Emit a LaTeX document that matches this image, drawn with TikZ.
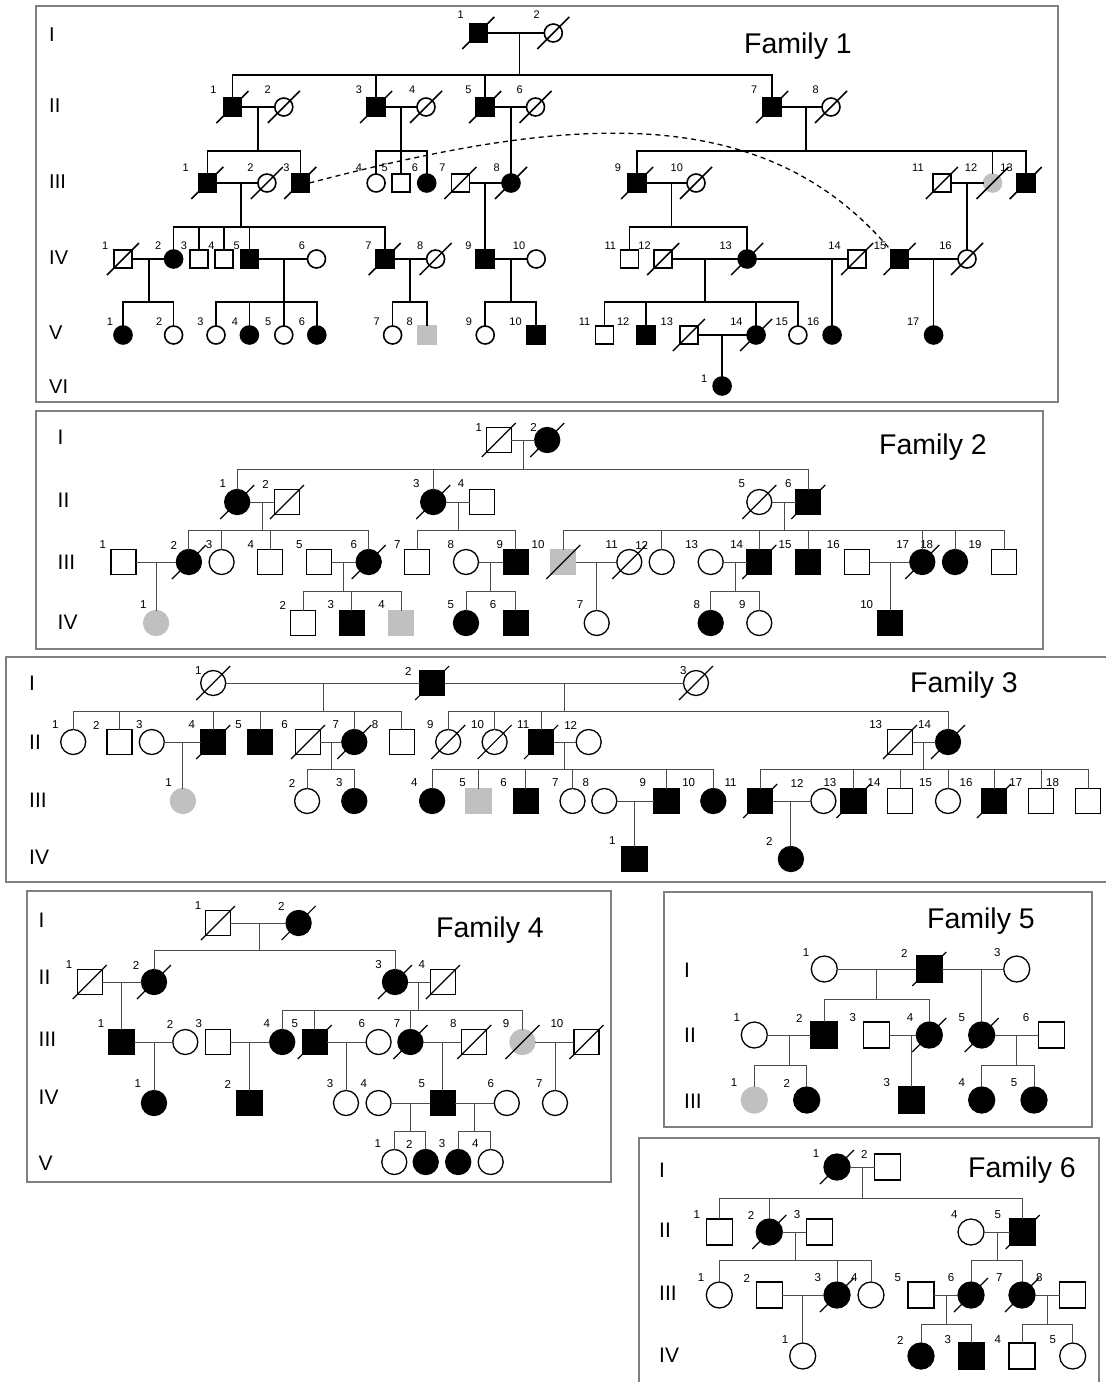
\documentclass[tikz,border=0pt]{standalone}
\usepackage{fontspec}
\setmainfont{Liberation Sans}
\definecolor{pgrey}{RGB}{192,192,192}
\tikzset{
 sym/.style={minimum size=25pt, line width=1.3pt},
 pbase/.style={draw=black, inner sep=0pt, outer sep=0pt, fill=white, sym},
 psq/.style={pbase, rectangle},
 pci/.style={pbase, circle},
 aff/.style={fill=black},
 gry/.style={fill=pgrey, draw=pgrey},
 lk/.style={line width=1pt, black!70},
 slash/.style={line width=1.2pt, black},
 lbl/.style={inner sep=0pt, font=\fontsize{11.5}{12}\selectfont},
 gen/.style={anchor=west, inner sep=0pt, font=\fontsize{21}{22}\selectfont},
 ttl/.style={anchor=base, inner sep=0pt, font=\fontsize{28.5}{30}\selectfont},
 frame/.style={draw=black!50, line width=1.4pt},
 dashline/.style={dash pattern=on 5pt off 4pt, line width=1.3pt},
}
\def\psl{17}
\newcommand\PSq[7]{\node[psq,#4] (#1) at (#2,#3) {}; \node[lbl] (#1l) at (#6,#7) {#5};}
\newcommand\PCi[7]{\node[pci,#4] (#1) at (#2,#3) {}; \node[lbl] (#1l) at (#6,#7) {#5};}
\newcommand\PDead[1]{\draw[slash] ([shift={(-\psl,\psl)}]#1.center) -- ([shift={(\psl,-\psl)}]#1.center);}
\newcommand\PMar[2]{\draw[lk] (#1) -- (#2);}
\newcommand\PKids[4]{\draw[lk] (#1,#2) -- (#1,#3); \foreach \ch in {#4}{\draw[lk] (#1,#3) -| (\ch);}}
\newcommand\PKid[3]{\draw[lk] (#1,#2) -- (#3);}
\begin{document}
\begin{tikzpicture}[x=1pt,y=-1pt]
\useasboundingbox (0,0) rectangle (1106,1382);
\fill[white] (0,0) rectangle (1106,1382);
% frames
\draw[frame] (36,6) rectangle (1058,402);
\draw[frame] (36,411) rectangle (1043,649);
\draw[frame] (1106,657) -- (6,657) -- (6,882) -- (1106,882);
\draw[frame] (27,891) rectangle (611,1182);
\draw[frame] (664,892) rectangle (1092,1127);
\draw[frame] (639,1382) -- (639,1138) -- (1099,1138) -- (1099,1382);

%================ FAMILY 1
\begin{scope}[sym/.style={minimum size=18pt, line width=1.6pt}, lk/.style={line width=1.6pt, black}, slash/.style={line width=1.5pt, black}, lbl/.style={inner sep=0pt, font=\fontsize{11}{12}\selectfont}, gen/.style={anchor=west, inner sep=0pt, font=\fontsize{20}{22}\selectfont}]
\def\psl{16}
\node[ttl] (t1) at (798,53.5) {Family 1};
\node[gen] (g1a) at (49,35) {I};
\node[gen] (g1b) at (49,106) {II};
\node[gen] (g1c) at (49,182) {III};
\node[gen] (g1d) at (49,258) {IV};
\node[gen] (g1e) at (49,333) {V};
\node[gen] (g1f) at (49,387) {VI};
% Gen I
\PSq{a-I-1}{478.3}{33}{aff}{1}{460.7}{15}
\PCi{a-I-2}{553.3}{33}{}{2}{536.7}{15}
\PMar{a-I-1}{a-I-2}
% Gen II
\PSq{a-II-1}{232.5}{107}{aff}{1}{213.5}{90}
\PCi{a-II-2}{283.8}{107}{}{2}{267.6}{90}
\PSq{a-II-3}{376.1}{107}{aff}{3}{358.9}{90}
\PCi{a-II-4}{426}{107}{}{4}{412.2}{90}
\PSq{a-II-5}{485.2}{107}{aff}{5}{468.4}{90}
\PCi{a-II-6}{535.5}{107}{}{6}{519.7}{90}
\PSq{a-II-7}{772.1}{107}{aff}{7}{754.3}{90}
\PCi{a-II-8}{831}{107}{}{8}{815.7}{90}
\PMar{a-II-1}{a-II-2}\PMar{a-II-3}{a-II-4}\PMar{a-II-5}{a-II-6}\PMar{a-II-7}{a-II-8}
% Gen III
\PSq{a-III-1}{207.3}{183}{aff}{1}{185.6}{168}
\PCi{a-III-2}{266.9}{183}{}{2}{250.4}{168}
\PSq{a-III-3}{300.3}{183}{aff}{3}{286.5}{168}
\PCi{a-III-4}{376.1}{183}{}{4}{358.9}{168}
\PSq{a-III-5}{401.2}{183}{}{5}{384.7}{168}
\PCi{a-III-6}{426.7}{183}{aff}{6}{415}{168}
\PSq{a-III-7}{460.4}{183}{}{7}{442.5}{168}
\PCi{a-III-8}{511}{183}{aff}{8}{496.6}{168}
\PSq{a-III-9}{637.1}{183}{aff}{9}{617.9}{168}
\PCi{a-III-10}{696}{183}{}{10}{676.8}{168}
\PSq{a-III-11}{941.8}{183}{}{11}{917.9}{168}
\PCi{a-III-12}{992.5}{183}{gry}{12}{971}{168}
\PSq{a-III-13}{1025.7}{183}{aff}{13}{1006.5}{168}
\PMar{a-III-1}{a-III-2}\PMar{a-III-7}{a-III-8}\PMar{a-III-9}{a-III-10}\PMar{a-III-11}{a-III-12}
% Gen IV
\PSq{a-IV-1}{123}{259}{}{1}{105.1}{246}
\PCi{a-IV-2}{173.6}{259}{aff}{2}{158.1}{246}
\PSq{a-IV-3}{198.7}{259}{}{3}{183.9}{246}
\PSq{a-IV-4}{223.9}{259}{}{4}{211.5}{246}
\PSq{a-IV-5}{249.4}{259}{aff}{5}{236.6}{246}
\PCi{a-IV-6}{316.5}{259}{}{6}{302}{246}
\PSq{a-IV-7}{384.7}{259}{aff}{7}{368.5}{246}
\PCi{a-IV-8}{435.6}{259}{}{8}{420.2}{246}
\PSq{a-IV-9}{485.2}{259}{aff}{9}{468.4}{246}
\PCi{a-IV-10}{536.2}{259}{}{10}{519}{246}
\PSq{a-IV-11}{629.3}{259}{}{11}{610.4}{246}
\PSq{a-IV-12}{663.2}{259}{}{12}{644.6}{246}
\PCi{a-IV-13}{747.1}{259}{aff}{13}{725.7}{246}
\PSq{a-IV-14}{857.1}{259}{}{14}{834.6}{246}
\PSq{a-IV-15}{899.6}{259}{aff}{15}{880}{246}
\PCi{a-IV-16}{967}{259}{}{16}{945.4}{246}
\PMar{a-IV-1}{a-IV-2}\PMar{a-IV-5}{a-IV-6}\PMar{a-IV-7}{a-IV-8}\PMar{a-IV-9}{a-IV-10}
\PMar{a-IV-12}{a-IV-13}\PMar{a-IV-13}{a-IV-14}\PMar{a-IV-15}{a-IV-16}
% Gen V
\PCi{a-V-1}{123}{335}{aff}{1}{109.9}{321.7}
\PCi{a-V-2}{173.6}{335}{}{2}{159.1}{321.7}
\PCi{a-V-3}{216}{335}{}{3}{200.5}{321.7}
\PCi{a-V-4}{249.4}{335}{aff}{4}{234.9}{321.7}
\PCi{a-V-5}{283.8}{335}{}{5}{268.3}{321.7}
\PCi{a-V-6}{316.8}{335}{aff}{6}{302}{321.7}
\PCi{a-V-7}{392.6}{335}{}{7}{376.8}{321.7}
\PSq{a-V-8}{427}{335}{gry}{8}{409.8}{321.7}
\PCi{a-V-9}{485.2}{335}{}{9}{469}{321.7}
\PSq{a-V-10}{536.2}{335}{aff}{10}{515.5}{321.7}
\PSq{a-V-11}{604.3}{335}{}{11}{584.6}{321.7}
\PSq{a-V-12}{646.1}{335}{aff}{12}{623.2}{321.7}
\PSq{a-V-13}{688.9}{335}{}{13}{666.8}{321.7}
\PCi{a-V-14}{756.1}{335}{aff}{14}{736.4}{321.7}
\PCi{a-V-15}{797.9}{335}{}{15}{781.8}{321.7}
\PCi{a-V-16}{832.1}{335}{aff}{16}{813.2}{321.7}
\PCi{a-V-17}{933.6}{335}{aff}{17}{913.2}{321.7}
\PMar{a-V-13}{a-V-14}
% Gen VI
\PCi{a-VI-1}{722.1}{386}{aff}{1}{704.3}{378.3}
% descent
\PKids{519.3}{33}{75}{a-II-1,a-II-3,a-II-5,a-II-7}
\PKids{258}{107}{151}{a-III-1,a-III-3}
\PKids{401.2}{107}{151}{a-III-4,a-III-5,a-III-6}
\PKid{511}{107}{a-III-8}
\PKids{806}{107}{151}{a-III-9,a-III-12,a-III-13}
\PKids{240.7}{183}{227}{a-IV-2,a-IV-3,a-IV-4,a-IV-5,a-IV-7}
\PKid{485.2}{183}{a-IV-9}
\PKids{671.4}{183}{227}{a-IV-11,a-IV-13}
\PKid{967}{183}{a-IV-16}
\PKids{148.8}{259}{302}{a-V-1,a-V-2}
\PKids{283.8}{259}{302}{a-V-3,a-V-4,a-V-5,a-V-6}
\PKids{409.8}{259}{302}{a-V-7,a-V-8}
\PKids{511}{259}{302}{a-V-9,a-V-10}
\PKids{705}{259}{302}{a-V-11,a-V-12,a-V-14,a-V-15}
\PKid{832.1}{259}{a-V-16}
\PKid{933.6}{259}{a-V-17}
\PKid{722.1}{335}{a-VI-1}
% deceased
\foreach \n in {a-I-1,a-I-2,a-II-1,a-II-2,a-II-3,a-II-4,a-II-5,a-II-6,a-II-7,a-II-8,a-III-1,a-III-2,a-III-3,a-III-7,a-III-8,a-III-9,a-III-10,a-III-11,a-III-12,a-III-13,a-IV-1,a-IV-7,a-IV-8,a-IV-12,a-IV-13,a-IV-14,a-IV-15,a-IV-16,a-V-13,a-V-14}{\PDead{\n}}
\draw[dashline] (a-III-3.east) .. controls (559,118) and (760,95) .. (a-IV-15.north west);
\end{scope}

%================ FAMILY 2
\begin{scope}
\node[ttl] (t2) at (933,454.5) {Family 2};
\node[gen] (g2a) at (57.5,437) {I};
\node[gen] (g2b) at (57.5,500) {II};
\node[gen] (g2c) at (57.5,562) {III};
\node[gen] (g2d) at (57.5,622) {IV};
\PSq{b-I-1}{498.8}{440}{}{1}{478.9}{427.7}
\PCi{b-I-2}{547.2}{440}{aff}{2}{533.6}{427.7}
\PMar{b-I-1}{b-I-2}
\PCi{b-II-1}{237.2}{502}{aff}{1}{222.7}{484}
\PSq{b-II-2}{286.9}{502}{}{2}{265.6}{484}
\PCi{b-II-3}{433.2}{502}{aff}{3}{416.3}{484}
\PSq{b-II-4}{482.3}{502}{}{4}{461}{484}
\PCi{b-II-5}{759.3}{502}{}{5}{741.7}{484}
\PSq{b-II-6}{808.3}{502}{aff}{6}{788.3}{484}
\PMar{b-II-1}{b-II-2}\PMar{b-II-3}{b-II-4}\PMar{b-II-5}{b-II-6}
\PSq{b-III-1}{123.6}{562}{}{1}{102.7}{545}
\PCi{b-III-2}{188.9}{562}{aff}{2}{173.7}{545}
\PCi{b-III-3}{221.6}{562}{}{3}{209.1}{545}
\PSq{b-III-4}{270}{562}{}{4}{250.7}{545}
\PSq{b-III-5}{319}{562}{}{5}{299.4}{545}
\PCi{b-III-6}{368.7}{562}{aff}{6}{353.8}{545}
\PSq{b-III-7}{417}{562}{}{7}{397.4}{545}
\PCi{b-III-8}{466}{562}{}{8}{450.8}{545}
\PSq{b-III-9}{515.7}{562}{aff}{9}{499.8}{545}
\PSq{b-III-10}{563.3}{562}{gry}{10}{538}{545}
\PCi{b-III-11}{629.3}{562}{}{11}{611.7}{545}
\PCi{b-III-12}{661.7}{562}{}{12}{641.7}{545}
\PCi{b-III-13}{710.7}{562}{}{13}{691.7}{545}
\PSq{b-III-14}{759.3}{562}{aff}{14}{736.7}{545}
\PSq{b-III-15}{808.3}{562}{aff}{15}{785}{545}
\PSq{b-III-16}{857.3}{562}{}{16}{833.3}{545}
\PCi{b-III-17}{922.3}{562}{aff}{17}{902.7}{545}
\PCi{b-III-18}{955}{562}{aff}{18}{926.7}{545}
\PSq{b-III-19}{1004}{562}{}{19}{975}{545}
\PMar{b-III-1}{b-III-2}\PMar{b-III-5}{b-III-6}\PMar{b-III-8}{b-III-9}\PMar{b-III-10}{b-III-11}\PMar{b-III-13}{b-III-14}\PMar{b-III-16}{b-III-17}
\PCi{b-IV-1}{156.1}{623}{gry}{1}{143.2}{605}
\PSq{b-IV-2}{303.1}{623}{}{2}{282.8}{605}
\PSq{b-IV-3}{351.8}{623}{aff}{3}{330.8}{605}
\PSq{b-IV-4}{401.1}{623}{gry}{4}{381.5}{605}
\PCi{b-IV-5}{466}{623}{aff}{5}{450.8}{605}
\PSq{b-IV-6}{515.7}{623}{aff}{6}{493.1}{605}
\PCi{b-IV-7}{596.7}{623}{}{7}{580}{605}
\PCi{b-IV-8}{710.7}{623}{aff}{8}{696.7}{605}
\PCi{b-IV-9}{759.3}{623}{}{9}{742.3}{605}
\PSq{b-IV-10}{890}{623}{aff}{10}{866.7}{605}
\PKids{523.5}{440}{469}{b-II-1,b-II-3,b-II-6}
\PKids{262.2}{502}{530}{b-III-2,b-III-3,b-III-4,b-III-6}
\PKids{458.3}{502}{530}{b-III-7,b-III-9}
\PKids{784.3}{502}{530}{b-III-10,b-III-12,b-III-14,b-III-15,b-III-17,b-III-18,b-III-19}
\PKid{156.1}{562}{b-IV-1}
\PKids{343.7}{562}{591.7}{b-IV-2,b-IV-3,b-IV-4}
\PKids{490.4}{562}{591.7}{b-IV-5,b-IV-6}
\PKid{596.7}{562}{b-IV-7}
\PKids{735}{562}{591.7}{b-IV-8,b-IV-9}
\PKid{890}{562}{b-IV-10}
\foreach \n in {b-I-1,b-I-2,b-II-1,b-II-2,b-II-3,b-II-5,b-II-6,b-III-2,b-III-6,b-III-10,b-III-11,b-III-14,b-III-17}{\PDead{\n}}
\end{scope}

%================ FAMILY 3
\begin{scope}
\node[ttl] (t3) at (964,692) {Family 3};
\node[gen] (g3a) at (29,683) {I};
\node[gen] (g3b) at (29,742) {II};
\node[gen] (g3c) at (29,800) {III};
\node[gen] (g3d) at (29,857) {IV};
\PCi{c-I-1}{213.2}{683}{}{1}{198.2}{671}
\PSq{c-I-2}{432.1}{683}{aff}{2}{408.2}{671}
\PCi{c-I-3}{696}{683}{}{3}{683.3}{671}
\PMar{c-I-1}{c-I-2}\PMar{c-I-2}{c-I-3}
\PCi{c-II-1}{73.2}{742}{}{1}{55.4}{725}
\PSq{c-II-2}{119.6}{742}{}{2}{96.4}{725}
\PCi{c-II-3}{151.8}{742}{}{3}{139.3}{725}
\PSq{c-II-4}{213.2}{742}{aff}{4}{191.8}{725}
\PSq{c-II-5}{260}{742}{aff}{5}{238.6}{725}
\PSq{c-II-6}{307.9}{742}{}{6}{284.6}{725}
\PCi{c-II-7}{354.3}{742}{aff}{7}{335.7}{725}
\PSq{c-II-8}{401.8}{742}{}{8}{375}{725}
\PCi{c-II-9}{448.2}{742}{}{9}{430.4}{725}
\PCi{c-II-10}{494.6}{742}{}{10}{477.5}{725}
\PSq{c-II-11}{541.1}{742}{aff}{11}{523.2}{725}
\PCi{c-II-12}{588.7}{742}{}{12}{570.7}{725}
\PSq{c-II-13}{900}{742}{}{13}{875.7}{725}
\PCi{c-II-14}{948}{742}{aff}{14}{924.5}{725}
\PMar{c-II-3}{c-II-4}\PMar{c-II-6}{c-II-7}\PMar{c-II-11}{c-II-12}\PMar{c-II-13}{c-II-14}
\PCi{c-III-1}{182.9}{801}{gry}{1}{168.6}{783}
\PCi{c-III-2}{307.1}{801}{}{2}{292.1}{783}
\PCi{c-III-3}{354.3}{801}{aff}{3}{339.3}{783}
\PCi{c-III-4}{432.1}{801}{aff}{4}{414.3}{783}
\PSq{c-III-5}{478.6}{801}{gry}{5}{462.5}{783}
\PSq{c-III-6}{525.7}{801}{aff}{6}{503.6}{783}
\PCi{c-III-7}{572.5}{801}{}{7}{555.2}{783}
\PCi{c-III-8}{604.3}{801}{}{8}{585.8}{783}
\PSq{c-III-9}{666.4}{801}{aff}{9}{642.9}{783}
\PCi{c-III-10}{713.3}{801}{aff}{10}{688.7}{783}
\PSq{c-III-11}{760.2}{801}{aff}{11}{730.6}{783}
\PCi{c-III-12}{823.4}{801}{}{12}{797}{783}
\PSq{c-III-13}{853.4}{801}{aff}{13}{829.9}{783}
\PSq{c-III-14}{900.3}{801}{}{14}{874}{783}
\PCi{c-III-15}{948}{801}{}{15}{925.6}{783}
\PSq{c-III-16}{994}{801}{aff}{16}{966}{783}
\PSq{c-III-17}{1041}{801}{}{17}{1015.8}{783}
\PSq{c-III-18}{1088}{801}{}{18}{1052.6}{783}
\PMar{c-III-8}{c-III-9}\PMar{c-III-11}{c-III-12}
\PSq{c-IV-1}{634.6}{859}{aff}{1}{612.2}{841}
\PCi{c-IV-2}{790.9}{859}{aff}{2}{769.2}{841}
\PKids{323.2}{683}{711}{c-II-1,c-II-2,c-II-4,c-II-5,c-II-7,c-II-8}
\PKids{564.5}{683}{711}{c-II-9,c-II-10,c-II-11,c-II-14}
\PKid{182.9}{742}{c-III-1}
\PKids{331.1}{742}{769.3}{c-III-2,c-III-3}
\PKids{564.5}{742}{769.3}{c-III-4,c-III-5,c-III-6,c-III-7,c-III-9,c-III-10}
\PKids{923.8}{742}{769.3}{c-III-11,c-III-13,c-III-14,c-III-15,c-III-16,c-III-17,c-III-18}
\PKid{634.6}{801}{c-IV-1}
\PKid{790.9}{801}{c-IV-2}
\foreach \n in {c-I-1,c-I-2,c-I-3,c-II-4,c-II-6,c-II-7,c-II-9,c-II-10,c-II-11,c-II-13,c-II-14,c-III-11,c-III-13,c-III-16}{\PDead{\n}}
\end{scope}

%================ FAMILY 4
\begin{scope}
\node[ttl] (t4) at (490,937) {Family 4};
\node[gen] (g4a) at (38.5,920) {I};
\node[gen] (g4b) at (38.5,977) {II};
\node[gen] (g4c) at (38.5,1039) {III};
\node[gen] (g4d) at (38.5,1097) {IV};
\node[gen] (g4e) at (38.5,1163) {V};
\PSq{d-I-1}{217.9}{923}{}{1}{198}{906}
\PCi{d-I-2}{298.6}{923}{aff}{2}{281.4}{906}
\PMar{d-I-1}{d-I-2}
\PSq{d-II-1}{89.7}{982}{}{1}{69}{965}
\PCi{d-II-2}{154}{982}{aff}{2}{136}{965}
\PCi{d-II-3}{395}{982}{aff}{3}{378.6}{965}
\PSq{d-II-4}{442.9}{982}{}{4}{421.8}{965}
\PMar{d-II-1}{d-II-2}\PMar{d-II-3}{d-II-4}
\PSq{d-III-1}{121.4}{1042}{aff}{1}{101.1}{1024}
\PCi{d-III-2}{185.3}{1042}{}{2}{170}{1024}
\PSq{d-III-3}{217.9}{1042}{}{3}{198.7}{1024}
\PCi{d-III-4}{282.2}{1042}{aff}{4}{266.8}{1024}
\PSq{d-III-5}{314.7}{1042}{aff}{5}{294.8}{1024}
\PCi{d-III-6}{378.6}{1042}{}{6}{361.7}{1024}
\PCi{d-III-7}{410.4}{1042}{aff}{7}{397}{1024}
\PSq{d-III-8}{474.3}{1042}{}{8}{453.2}{1024}
\PCi{d-III-9}{522.5}{1042}{gry}{9}{506}{1024}
\PSq{d-III-10}{586.4}{1042}{}{10}{556.9}{1024}
\PMar{d-III-1}{d-III-2}\PMar{d-III-3}{d-III-4}\PMar{d-III-5}{d-III-6}\PMar{d-III-7}{d-III-8}\PMar{d-III-9}{d-III-10}
\PCi{d-IV-1}{154}{1103}{aff}{1}{137.9}{1084}
\PSq{d-IV-2}{249.6}{1103}{aff}{2}{227.8}{1084}
\PCi{d-IV-3}{346}{1103}{}{3}{330}{1084}
\PCi{d-IV-4}{378.6}{1103}{}{4}{363.7}{1084}
\PSq{d-IV-5}{442.9}{1103}{aff}{5}{421.8}{1084}
\PCi{d-IV-6}{506.8}{1103}{}{6}{490.7}{1084}
\PCi{d-IV-7}{555}{1103}{}{7}{539.3}{1084}
\PMar{d-IV-4}{d-IV-5}\PMar{d-IV-5}{d-IV-6}
\PCi{d-V-1}{394.3}{1162}{}{1}{377.8}{1144}
\PCi{d-V-2}{425.7}{1162}{aff}{2}{409.2}{1144}
\PCi{d-V-3}{458.2}{1162}{aff}{3}{442.1}{1144}
\PCi{d-V-4}{490.7}{1162}{}{4}{475.4}{1144}
\PKids{259.2}{923}{950.7}{d-II-2,d-II-3}
\PKid{121.4}{982}{d-III-1}
\PKids{418.8}{982}{1010.7}{d-III-4,d-III-5,d-III-7,d-III-9}
\PKid{154}{1042}{d-IV-1}
\PKid{249.6}{1042}{d-IV-2}
\PKid{346}{1042}{d-IV-3}
\PKid{442.9}{1042}{d-IV-5}
\PKid{555}{1042}{d-IV-7}
\PKids{410.4}{1103}{1131}{d-V-1,d-V-2}
\PKids{474.3}{1103}{1131}{d-V-3,d-V-4}
\foreach \n in {d-I-1,d-I-2,d-II-1,d-II-2,d-II-3,d-II-4,d-III-5,d-III-7,d-III-8,d-III-9,d-III-10}{\PDead{\n}}
\end{scope}

%================ FAMILY 5
\begin{scope}[sym/.style={minimum size=26pt, line width=1.3pt}]
\node[ttl] (t5) at (981,928) {Family 5};
\node[gen] (g5a) at (684,970) {I};
\node[gen] (g5b) at (684,1035) {II};
\node[gen] (g5c) at (684,1101) {III};
\PCi{e-I-1}{824.3}{969}{}{1}{806}{953}
\PSq{e-I-2}{929.3}{969}{aff}{2}{904.3}{953}
\PCi{e-I-3}{1016.7}{969}{}{3}{997.3}{953}
\PMar{e-I-1}{e-I-2}\PMar{e-I-2}{e-I-3}
\PCi{e-II-1}{754.3}{1035}{}{1}{736.7}{1018}
\PSq{e-II-2}{824}{1035}{aff}{2}{799.3}{1018}
\PSq{e-II-3}{876.7}{1035}{}{3}{852.7}{1018}
\PCi{e-II-4}{929.3}{1035}{aff}{4}{910}{1018}
\PCi{e-II-5}{981.7}{1035}{aff}{5}{961.7}{1018}
\PSq{e-II-6}{1051.7}{1035}{}{6}{1026}{1018}
\PMar{e-II-1}{e-II-2}\PMar{e-II-3}{e-II-4}\PMar{e-II-5}{e-II-6}
\PCi{e-III-1}{754.3}{1100}{gry}{1}{734}{1083}
\PCi{e-III-2}{806.7}{1100}{aff}{2}{786.7}{1083}
\PSq{e-III-3}{911.7}{1100}{aff}{3}{886.7}{1083}
\PCi{e-III-4}{981.7}{1100}{aff}{4}{961.7}{1083}
\PCi{e-III-5}{1034}{1100}{aff}{5}{1014}{1083}
\PKids{876.7}{969}{999.7}{e-II-2,e-II-4}
\PKid{981.7}{969}{e-II-5}
\PKids{789.3}{1035}{1065.3}{e-III-1,e-III-2}
\PKid{911.7}{1035}{e-III-3}
\PKids{1016.7}{1035}{1065.3}{e-III-4,e-III-5}
\foreach \n in {e-I-2,e-II-4,e-II-5}{\PDead{\n}}
\end{scope}

%================ FAMILY 6
\begin{scope}[sym/.style={minimum size=26pt, line width=1.3pt}]
\node[ttl] (t6) at (1022,1177) {Family 6};
\node[gen] (g6a) at (659,1170) {I};
\node[gen] (g6b) at (659,1230) {II};
\node[gen] (g6c) at (659,1293) {III};
\node[gen] (g6d) at (659,1355) {IV};
\PCi{f-I-1}{837}{1167}{aff}{1}{816}{1154}
\PSq{f-I-2}{887.7}{1167}{}{2}{864.3}{1154}
\PMar{f-I-1}{f-I-2}
\PSq{f-II-1}{719.3}{1232}{}{1}{696.7}{1215}
\PCi{f-II-2}{769.3}{1232}{aff}{2}{751}{1215}
\PSq{f-II-3}{819.3}{1232}{}{3}{797}{1215}
\PCi{f-II-4}{971}{1232}{}{4}{954.3}{1215}
\PSq{f-II-5}{1022.7}{1232}{aff}{5}{997.7}{1215}
\PMar{f-II-2}{f-II-3}\PMar{f-II-4}{f-II-5}
\PCi{f-III-1}{719.3}{1295}{}{1}{701}{1278}
\PSq{f-III-2}{769.3}{1295}{}{2}{746.7}{1278}
\PCi{f-III-3}{837}{1295}{aff}{3}{817.7}{1278}
\PCi{f-III-4}{871}{1295}{}{4}{854.3}{1278}
\PSq{f-III-5}{921}{1295}{}{5}{897.7}{1278}
\PCi{f-III-6}{971}{1295}{aff}{6}{951}{1278}
\PCi{f-III-7}{1022}{1295}{aff}{7}{999.3}{1278}
\PSq{f-III-8}{1072.7}{1295}{}{8}{1039.3}{1278}
\PMar{f-III-2}{f-III-3}\PMar{f-III-5}{f-III-6}\PMar{f-III-7}{f-III-8}
\PCi{f-IV-1}{802.7}{1356}{}{1}{785}{1340}
\PCi{f-IV-2}{921}{1356}{aff}{2}{900.3}{1340}
\PSq{f-IV-3}{971.7}{1356}{aff}{3}{947.7}{1340}
\PSq{f-IV-4}{1022}{1356}{}{4}{997.7}{1340}
\PCi{f-IV-5}{1072.7}{1356}{}{5}{1052.7}{1340}
\PKids{862.7}{1167}{1198}{f-II-1,f-II-2,f-II-5}
\PKids{795}{1232}{1260.3}{f-III-1,f-III-3,f-III-4}
\PKids{997}{1232}{1260.3}{f-III-6,f-III-7}
\PKid{802.7}{1295}{f-IV-1}
\PKids{946.7}{1295}{1324.3}{f-IV-2,f-IV-3}
\PKids{1047.7}{1295}{1324.3}{f-IV-4,f-IV-5}
\foreach \n in {f-I-1,f-II-2,f-II-5,f-III-3,f-III-6,f-III-7}{\PDead{\n}}
\end{scope}
\end{tikzpicture}
\end{document}
